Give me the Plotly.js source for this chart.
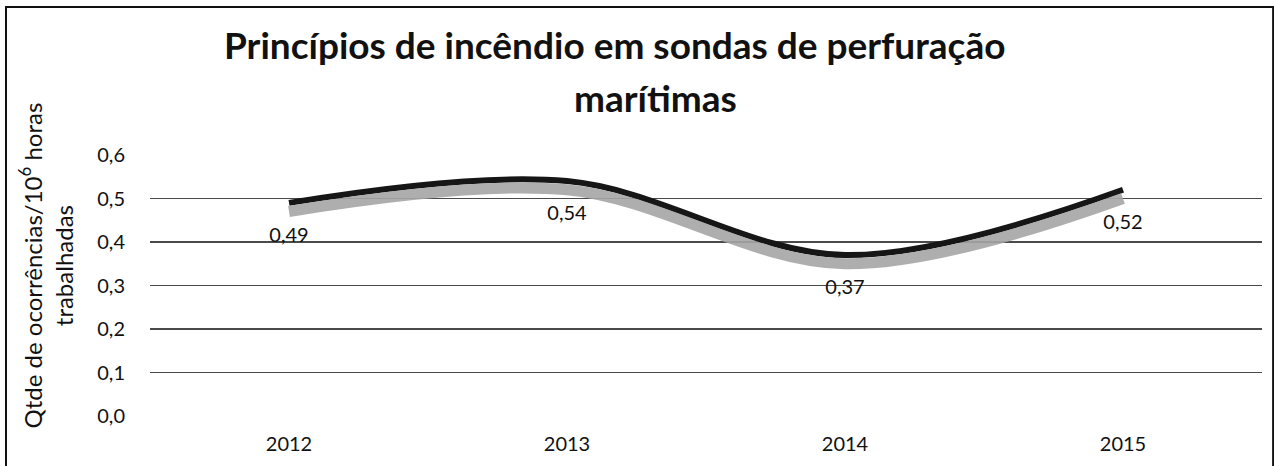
<!DOCTYPE html>
<html><head><meta charset="utf-8">
<script src="https://cdn.plot.ly/plotly-3.0.1.min.js"></script>
<style>html,body{margin:0;padding:0;background:#fff}#c{width:1274px;height:466px}</style>
</head><body><div id="c"></div>
<script>
const years = ['2012','2013','2014','2015'];
const values = [0.49, 0.54, 0.37, 0.52];
const labels = ['0,49','0,54','0,37','0,52'];
const yTicks = [0, 0.1, 0.2, 0.3, 0.4, 0.5, 0.6];
const yTickText = ['0,0','0,1','0,2','0,3','0,4','0,5','0,6'];
const titleLines = ['Princípios de incêndio em sondas de perfuração', 'marítimas'];
const yTitle = 'Qtde de ocorrências/10<sup>6</sup> horas<br>trabalhadas';

const font = 'Lato, "Open Sans", sans-serif';
const shadow = {
  x: years, y: values, type: 'scatter', mode: 'lines', yaxis: 'y2', xaxis: 'x',
  line: {color: 'rgba(165,165,165,0.9)', width: 11, shape: 'spline', smoothing: 1},
  hoverinfo: 'skip', showlegend: false
};
const main = {
  x: years, y: values, type: 'scatter', mode: 'lines',
  line: {color: '#161616', width: 6, shape: 'spline', smoothing: 1},
  showlegend: false
};
const labelTrace = {
  x: years, y: values, type: 'scatter', mode: 'text', yaxis: 'y3',
  text: labels, textposition: 'middle center',
  textfont: {family: font, size: 20, color: '#111'},
  hoverinfo: 'skip', showlegend: false
};
const layout = {
  width: 1274, height: 466,
  margin: {l: 150, r: 12, t: 155, b: 50},
  paper_bgcolor: '#fff', plot_bgcolor: '#fff',
  xaxis: {type: 'category', range: [-0.5, 3.5], showgrid: false, zeroline: false, showline: false,
          ticks: 'outside', ticklen: 10, tickcolor: 'rgba(0,0,0,0)',
          tickfont: {family: font, size: 20, color: '#111'}},
  yaxis: {range: [0, 0.6], tickvals: yTicks, ticktext: yTickText, showgrid: true,
          gridcolor: '#4a4a4a', gridwidth: 1.6, zeroline: false, showline: false,
          ticks: 'outside', ticklen: 20, tickcolor: 'rgba(0,0,0,0)',
          tickfont: {family: font, size: 20, color: '#111'}},
  yaxis2: {overlaying: 'y', range: [0.02, 0.62], visible: false},
  yaxis3: {overlaying: 'y', range: [0.078, 0.678], visible: false},
  annotations: [
    {text: '<b>' + titleLines[0] + '</b>', xref: 'paper', yref: 'paper', x: 0.418, y: 1.4215,
     xanchor: 'center', yanchor: 'middle', showarrow: false, font: {family: font, size: 37, color: '#111'}},
    {text: '<b>' + titleLines[1] + '</b>', xref: 'paper', yref: 'paper', x: 0.455, y: 1.222,
     xanchor: 'center', yanchor: 'middle', showarrow: false, font: {family: font, size: 37, color: '#111'}},
    {text: yTitle, xref: 'paper', yref: 'paper', x: -0.094, y: 0.5785, textangle: -90,
     xanchor: 'center', yanchor: 'middle', showarrow: false, font: {family: font, size: 24, color: '#111'}}
  ],
  shapes: [{type: 'rect', xref: 'paper', yref: 'paper', x0: -0.1295, x1: 1.01, y0: -0.3, y1: 1.567,
            line: {color: '#111', width: 2}}]
};
Plotly.newPlot('c', [shadow, main, labelTrace], layout, {displayModeBar: false, staticPlot: true});
</script></body></html>
